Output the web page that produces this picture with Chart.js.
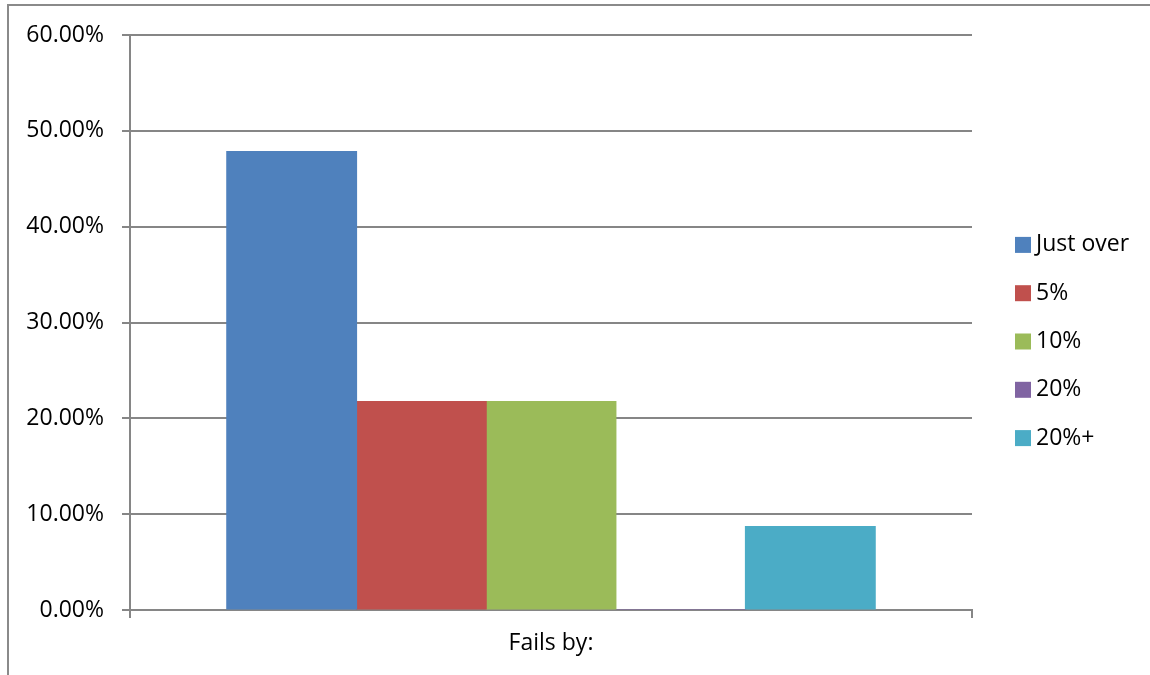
<!DOCTYPE html>
<html>
<head>
<meta charset="utf-8">
<script src="https://cdn.jsdelivr.net/npm/chart.js@4/dist/chart.umd.min.js"></script>
<style>
html, body { margin: 0; padding: 0; background: #fff; }
#wrap { position: relative; width: 1150px; height: 675px; }
#frame { position: absolute; left: 7px; top: 4px; right: 0; bottom: 0;
         border-top: 2px solid #8a8a8a; border-left: 2px solid #8a8a8a; pointer-events: none; }
</style>
</head>
<body>
<div id="wrap">
  <canvas id="chart" width="1150" height="675"></canvas>
  <div id="frame"></div>
</div>
<script>
var categories = ['Fails by:'];
var seriesNames = ['Just over', '5%', '10%', '20%', '20%+'];
var seriesValues = [47.83, 21.74, 21.74, 0, 8.70];
var seriesColors = ['#4F81BD', '#C0504D', '#9BBB59', '#8064A2', '#4BACC6'];
var yMin = 0, yMax = 60, yStep = 10;

var gridGrey = '#868686';
var labelFont = { family: '"Open Sans", "Liberation Sans", sans-serif', size: 23 };

// one dataset per series so each gets its own legend entry
var datasets = seriesNames.map(function (name, i) {
    return {
        label: name,
        data: [seriesValues[i]],
        backgroundColor: seriesColors[i],
        borderWidth: 0,
        inflateAmount: 0.6,
        categoryPercentage: 0.77,
        barPercentage: 1.0
    };
});

// legend drawn beside the plot, boxes + names
var sideLegend = {
    id: 'sideLegend',
    afterDraw: function (chart) {
        var c = chart.ctx, area = chart.chartArea;
        var step = 48.3;
        var x = area.right + 43;
        var y0 = (area.top + area.bottom) / 2 + 19 - 2 * step;
        c.save();
        c.font = labelFont.size + 'px ' + labelFont.family;
        c.textBaseline = 'middle';
        c.textAlign = 'left';
        chart.data.datasets.forEach(function (ds, i) {
            var y = y0 + i * step;
            c.fillStyle = ds.backgroundColor;
            c.fillRect(x, y - 8, 16, 16);
            c.fillStyle = '#000';
            c.fillText(ds.label, x + 21, y);
        });
        c.restore();
    }
};

var ctx = document.getElementById('chart').getContext('2d');
var chart = new Chart(ctx, {
    type: 'bar',
    data: {
        labels: categories,
        datasets: datasets
    },
    options: {
        responsive: false,
        animation: false,
        layout: { padding: { top: 35, right: 178, bottom: 0, left: 0 } },
        plugins: {
            legend: { display: false },
            tooltip: { enabled: false }
        },
        scales: {
            x: {
                offset: true,
                grid: { display: true, offset: true, drawOnChartArea: false, tickLength: 8, color: gridGrey, lineWidth: 2 },
                border: { display: true, color: gridGrey, width: 2 },
                ticks: { color: '#000', font: labelFont, padding: 12 },
                afterFit: function (s) { s.height = 65; }
            },
            y: {
                min: yMin,
                max: yMax,
                grid: { tickLength: 8, color: gridGrey, lineWidth: 2 },
                border: { display: true, color: gridGrey, width: 2 },
                ticks: {
                    stepSize: yStep,
                    color: '#000',
                    font: labelFont,
                    padding: 18,
                    callback: function (v) { return v.toFixed(2) + '%'; }
                },
                afterFit: function (s) { s.width = 130; }
            }
        }
    },
    plugins: [sideLegend]
});
</script>
</body>
</html>
